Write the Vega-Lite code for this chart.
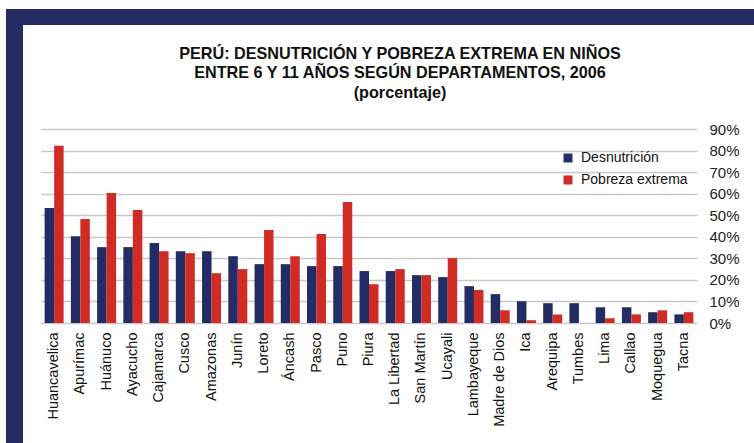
{
  "$schema": "https://vega.github.io/schema/vega-lite/v6.json",
  "background": "white",
  "padding": {"left": 6, "top": 9, "right": 0, "bottom": 0},
  "spacing": 0,
  "bounds": "flush",
  "config": {
    "font": "Liberation Sans",
    "view": {"stroke": null}
  },
  "hconcat": [
    {
      "width": 17,
      "height": 434,
      "view": {"fill": "#232c63", "stroke": null},
      "data": {"values": []},
      "mark": "point"
    },
    {
      "spacing": 104,
      "bounds": "flush",
      "vconcat": [
        {
          "width": 731,
          "height": 16,
          "view": {"fill": "#232c63", "stroke": null},
          "data": {"values": []},
          "mark": "point"
        },
        {
          "spacing": 17,
          "bounds": "flush",
          "hconcat": [
            {
              "width": 1,
              "height": 194,
              "data": {"values": []},
              "mark": "point"
            },
            {
              "width": 656,
              "height": 194,
              "title": {
                "text": ["PERÚ: DESNUTRICIÓN Y POBREZA EXTREMA EN NIÑOS", "ENTRE 6 Y 11 AÑOS SEGÚN DEPARTAMENTOS, 2006", "(porcentaje)"],
                "fontSize": 16.2,
                "fontWeight": "bold",
                "color": "#111111",
                "anchor": "middle",
                "frame": "group",
                "dx": 31,
                "offset": 21,
                "lineHeight": 19.5
              },
              "data": {
                "values": [
                  {"dep": "Huancavelica", "serie": "Desnutrición", "valor": 53.3},
                  {"dep": "Huancavelica", "serie": "Pobreza extrema", "valor": 82.2},
                  {"dep": "Apurímac", "serie": "Desnutrición", "valor": 40.3},
                  {"dep": "Apurímac", "serie": "Pobreza extrema", "valor": 48.2},
                  {"dep": "Huánuco", "serie": "Desnutrición", "valor": 35.2},
                  {"dep": "Huánuco", "serie": "Pobreza extrema", "valor": 60.3},
                  {"dep": "Ayacucho", "serie": "Desnutrición", "valor": 35.2},
                  {"dep": "Ayacucho", "serie": "Pobreza extrema", "valor": 52.4},
                  {"dep": "Cajamarca", "serie": "Desnutrición", "valor": 37.1},
                  {"dep": "Cajamarca", "serie": "Pobreza extrema", "valor": 33.3},
                  {"dep": "Cusco", "serie": "Desnutrición", "valor": 33.3},
                  {"dep": "Cusco", "serie": "Pobreza extrema", "valor": 32.4},
                  {"dep": "Amazonas", "serie": "Desnutrición", "valor": 33.3},
                  {"dep": "Amazonas", "serie": "Pobreza extrema", "valor": 23.1},
                  {"dep": "Junín", "serie": "Desnutrición", "valor": 31.0},
                  {"dep": "Junín", "serie": "Pobreza extrema", "valor": 25.0},
                  {"dep": "Loreto", "serie": "Desnutrición", "valor": 27.3},
                  {"dep": "Loreto", "serie": "Pobreza extrema", "valor": 43.1},
                  {"dep": "Áncash", "serie": "Desnutrición", "valor": 27.3},
                  {"dep": "Áncash", "serie": "Pobreza extrema", "valor": 31.0},
                  {"dep": "Pasco", "serie": "Desnutrición", "valor": 26.4},
                  {"dep": "Pasco", "serie": "Pobreza extrema", "valor": 41.3},
                  {"dep": "Puno", "serie": "Desnutrición", "valor": 26.4},
                  {"dep": "Puno", "serie": "Pobreza extrema", "valor": 56.1},
                  {"dep": "Piura", "serie": "Desnutrición", "valor": 24.1},
                  {"dep": "Piura", "serie": "Pobreza extrema", "valor": 18.0},
                  {"dep": "La Libertad", "serie": "Desnutrición", "valor": 24.1},
                  {"dep": "La Libertad", "serie": "Pobreza extrema", "valor": 25.0},
                  {"dep": "San Martín", "serie": "Desnutrición", "valor": 22.2},
                  {"dep": "San Martín", "serie": "Pobreza extrema", "valor": 22.2},
                  {"dep": "Ucayali", "serie": "Desnutrición", "valor": 21.3},
                  {"dep": "Ucayali", "serie": "Pobreza extrema", "valor": 30.1},
                  {"dep": "Lambayeque", "serie": "Desnutrición", "valor": 17.1},
                  {"dep": "Lambayeque", "serie": "Pobreza extrema", "valor": 15.3},
                  {"dep": "Madre de Dios", "serie": "Desnutrición", "valor": 13.4},
                  {"dep": "Madre de Dios", "serie": "Pobreza extrema", "valor": 5.9},
                  {"dep": "Ica", "serie": "Desnutrición", "valor": 10.1},
                  {"dep": "Ica", "serie": "Pobreza extrema", "valor": 1.3},
                  {"dep": "Arequipa", "serie": "Desnutrición", "valor": 9.2},
                  {"dep": "Arequipa", "serie": "Pobreza extrema", "valor": 4.0},
                  {"dep": "Tumbes", "serie": "Desnutrición", "valor": 9.2},
                  {"dep": "Tumbes", "serie": "Pobreza extrema", "valor": 0},
                  {"dep": "Lima", "serie": "Desnutrición", "valor": 7.3},
                  {"dep": "Lima", "serie": "Pobreza extrema", "valor": 2.2},
                  {"dep": "Callao", "serie": "Desnutrición", "valor": 7.3},
                  {"dep": "Callao", "serie": "Pobreza extrema", "valor": 4.0},
                  {"dep": "Moquegua", "serie": "Desnutrición", "valor": 5.0},
                  {"dep": "Moquegua", "serie": "Pobreza extrema", "valor": 5.9},
                  {"dep": "Tacna", "serie": "Desnutrición", "valor": 4.0},
                  {"dep": "Tacna", "serie": "Pobreza extrema", "valor": 5.0}
                ]
              },
              "mark": {"type": "bar"},
              "encoding": {
                "x": {
                  "field": "dep",
                  "type": "nominal",
                  "sort": null,
                  "scale": {"paddingInner": 0.276, "paddingOuter": 0.138},
                  "axis": {
                    "title": null,
                    "labelAngle": -90,
                    "labelFontSize": 14.5,
                    "labelColor": "#111111",
                    "labelPadding": 9,
                    "ticks": false,
                    "domain": false,
                    "grid": false
                  }
                },
                "xOffset": {
                  "field": "serie",
                  "type": "nominal",
                  "sort": ["Desnutrición", "Pobreza extrema"],
                  "scale": {"paddingInner": 0, "paddingOuter": 0}
                },
                "y": {
                  "field": "valor",
                  "type": "quantitative",
                  "scale": {"domain": [0, 90], "nice": false},
                  "axis": {
                    "title": null,
                    "orient": "right",
                    "values": [0, 10, 20, 30, 40, 50, 60, 70, 80, 90],
                    "labelExpr": "datum.value + '%'",
                    "labelFontSize": 15,
                    "labelColor": "#222222",
                    "labelPadding": 12,
                    "labelAlign": "left",
                    "ticks": false,
                    "domain": false,
                    "grid": true,
                    "gridColor": "#c8c8c8",
                    "gridWidth": 1.3
                  }
                },
                "color": {
                  "field": "serie",
                  "type": "nominal",
                  "scale": {"domain": ["Desnutrición", "Pobreza extrema"], "range": ["#232c63", "#d12b25"]},
                  "legend": {
                    "title": null,
                    "orient": "none",
                    "legendX": 555,
                    "legendY": 142,
                    "symbolType": "square",
                    "symbolSize": 81,
                    "symbolStrokeWidth": 0,
                    "labelFontSize": 14,
                    "labelColor": "#111111",
                    "labelOffset": 6,
                    "rowPadding": 8
                  }
                }
              }
            }
          ]
        }
      ]
    }
  ]
}
